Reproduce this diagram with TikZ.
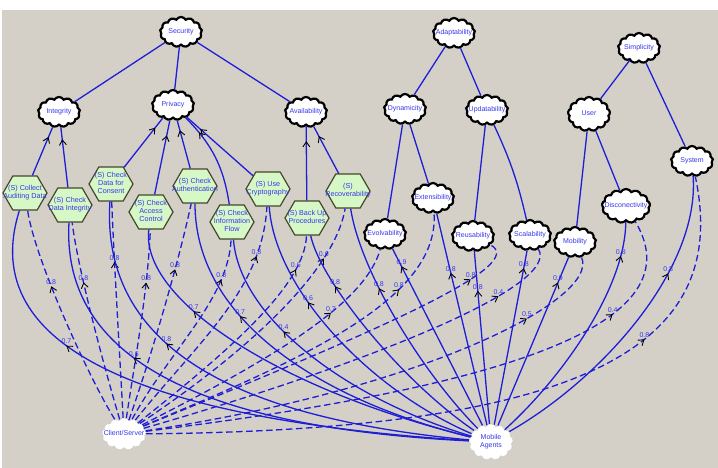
\documentclass[tikz,border=0pt]{standalone}
\usepackage{fontspec}
\setmainfont{Liberation Sans}
\usepackage{xcolor}
\usetikzlibrary{positioning}
\usetikzlibrary{shapes.symbols}
\usetikzlibrary{arrows.meta}
\usetikzlibrary{decorations.markings}
\definecolor{panelgray}{RGB}{212,208,200}
\definecolor{linkblue}{RGB}{30,30,215}
\definecolor{textblue}{RGB}{55,55,235}
\definecolor{opgreen}{RGB}{214,248,198}
\definecolor{opborder}{RGB}{70,70,40}
\newcommand{\ctext}[1]{\makebox[0pt]{\begin{tabular}{@{}c@{}}#1\end{tabular}}} % zero width text, so the shape keeps its own size
\newcommand{\contrib}[6]{ % Takes line style, from node, to node, path between them, arrow position, label text as arguments
    \draw[#1, postaction={decorate}, decoration={markings, mark=at position #5 with {\arrow{Straight Barb[color=black,length=5pt,width=7pt,line width=0.9pt]}\coordinate (lbl);}}] (#2) #4 (#3);
    \node[cval, above=1pt] at (lbl) {#6};
}

\begin{document}
\begin{tikzpicture}[x=1pt, y=-1pt,
    softgoal/.style={cloud, cloud puffs=13, cloud puff arc=120, cloud ignores aspect, draw=black, line width=2.2pt, fill=white, minimum width=42pt, minimum height=30pt, inner sep=0pt, text=textblue, font=\fontsize{7}{8}\selectfont},
    altgoal/.style={softgoal, draw=gray!45, line width=0.6pt, dash pattern=on 1pt off 1pt},
    operation/.style={signal, signal to=west and east, signal pointer angle=120, draw=opborder, line width=1.2pt, fill=opgreen, minimum width=44pt, minimum height=34pt, inner sep=0pt, text=textblue, font=\fontsize{7.2}{8}\selectfont},
    link/.style={linkblue, line width=1.3pt},
    solidlink/.style={link},
    dashlink/.style={link, dash pattern=on 6.5pt off 3.5pt},
    cval/.style={text=textblue, font=\fontsize{7}{7}\selectfont, inner sep=0.5pt},
    opedge/.style={link, postaction={decorate}, decoration={markings, mark=at position 0.8 with {\arrow{Straight Barb[color=black,length=5pt,width=7pt,line width=0.9pt]}}}}]

    % Frame
    \useasboundingbox (0,0) rectangle (718,468);
    \fill[white] (0,0) rectangle (718,468);
    \fill[panelgray] (2,10) rectangle (718,468);

    % Softgoals
    \node[softgoal] (sec) at (181,32) {\ctext{Security}};
    \node[softgoal] (integ) at (59,112) {\ctext{Integrity}};
    \node[softgoal] (priv) at (173,105) {\ctext{Privacy}};
    \node[softgoal] (avail) at (306,112) {\ctext{Availability}};
    \node[softgoal] (adapt) at (454,33) {\ctext{Adaptability}};
    \node[softgoal] (simpl) at (639,48) {\ctext{Simplicity}};
    \node[softgoal] (dyn) at (405,109) {\ctext{Dynamicity}};
    \node[softgoal] (upd) at (487,110) {\ctext{Updatability}};
    \node[softgoal, minimum height=34pt] (user) at (589,114) {\ctext{User}};
    \node[softgoal] (sys) at (692,161) {\ctext{System}};
    \node[softgoal] (ext) at (433,198) {\ctext{Extensibility}};
    \node[softgoal, minimum width=48pt, minimum height=34pt] (disc) at (626,206) {\ctext{Disconectivity}};
    \node[softgoal] (evol) at (385,234) {\ctext{Evolvability}};
    \node[softgoal] (reus) at (473,236) {\ctext{Reusability}};
    \node[softgoal] (scal) at (530,235) {\ctext{Scalability}};
    \node[softgoal] (mob) at (575,242) {\ctext{Mobility}};

    % Operationalizations
    \node[operation] (cad) at (25,193) {\ctext{(S) Collect\\Auditing Data}};
    \node[operation] (cdi) at (70,205) {\ctext{(S) Check\\Data Integrity}};
    \node[operation] (cdc) at (111,184) {\ctext{(S) Check\\Data for\\Consent}};
    \node[operation] (cac) at (151,212) {\ctext{(S) Check\\Access\\Control}};
    \node[operation] (cau) at (195,186) {\ctext{(S) Check\\Authentication}};
    \node[operation] (cif) at (232,222) {\ctext{(S) Check\\Information\\Flow}};
    \node[operation] (ucr) at (268,189) {\ctext{(S) Use\\Cryptography}};
    \node[operation] (bup) at (307,218) {\ctext{(S) Back Up\\Procedures}};
    \node[operation] (rec) at (348,191) {\ctext{(S)\\Recoverability}};

    % Architectures
    \node[altgoal, minimum width=44pt, minimum height=32pt] (cs) at (124,434) {\ctext{Client/Server}};
    \node[altgoal, minimum width=44pt, minimum height=36pt] (ma) at (491,442) {\ctext{Mobile\\Agents}};

    % Decompositions
    \draw[link] (sec) -- (integ);
    \draw[link] (sec) -- (priv);
    \draw[link] (sec) -- (avail);
    \draw[link] (adapt) -- (dyn);
    \draw[link] (adapt) -- (upd);
    \draw[link] (dyn) -- (evol);
    \draw[link] (dyn) -- (ext);
    \draw[link] (upd) -- (reus);
    \draw[link] (upd) to[bend left=6] (scal);
    \draw[link] (simpl) -- (user);
    \draw[link] (simpl) -- (sys);
    \draw[link] (user) -- (mob);
    \draw[link] (user) -- (disc);

    % Operationalizations to softgoals
    \draw[opedge] (cad) -- (integ);
    \draw[opedge] (cdi) -- (integ);
    \draw[opedge] (cdc) -- (priv);
    \draw[opedge] (cac) -- (priv);
    \draw[opedge] (cau) -- (priv);
    \draw[opedge] (cif) to[bend right=18] (priv);
    \draw[opedge] (ucr) -- (priv);
    \draw[opedge] (bup) -- (avail);
    \draw[opedge] (rec) -- (avail);

    % Client/Server contributions
    \contrib{dashlink}{cs}{cad}{.. controls (90,380) and (35,260) ..}{0.65}{0.8}
    \contrib{dashlink}{cs}{cdi}{.. controls (105,370) and (78,270) ..}{0.7}{0.8}
    \contrib{dashlink}{cs}{cdc}{.. controls (120,360) and (114,260) ..}{0.72}{0.8}
    \contrib{dashlink}{cs}{cac}{.. controls (135,360) and (148,290) ..}{0.72}{0.8}
    \contrib{dashlink}{cs}{cau}{.. controls (150,360) and (178,265) ..}{0.7}{0.8}
    \contrib{dashlink}{cs}{cif}{.. controls (170,350) and (228,300) ..}{0.8}{0.8}
    \contrib{dashlink}{cs}{ucr}{.. controls (200,340) and (262,290) ..}{0.8}{0.8}
    \contrib{dashlink}{cs}{bup}{.. controls (230,350) and (305,285) ..}{0.86}{0.6}
    \contrib{dashlink}{cs}{rec}{.. controls (250,350) and (335,270) ..}{0.82}{0.6}
    \contrib{dashlink}{cs}{evol}{.. controls (290,350) and (365,300) ..}{0.73}{0.7}
    \contrib{dashlink}{cs}{ext}{.. controls (300,360) and (440,300) ..}{0.77}{0.8}
    \contrib{dashlink}{cs}{reus}{.. controls (380,330) and (530,265) ..}{0.88}{0.8}
    \contrib{dashlink}{cs}{scal}{.. controls (380,360) and (560,285) ..}{0.85}{0.4}
    \contrib{dashlink}{cs}{mob}{.. controls (420,390) and (600,300) ..}{0.82}{0.5}
    \contrib{dashlink}{cs}{disc}{.. controls (480,390) and (700,330) ..}{0.82}{0.4}
    \contrib{dashlink}{cs}{sys}{.. controls (600,430) and (730,340) ..}{0.74}{0.8}

    % Mobile Agents contributions
    \contrib{solidlink}{ma}{cad}{.. controls (150,420) and (-25,350) ..}{0.73}{0.7}
    \contrib{solidlink}{ma}{cdi}{.. controls (250,430) and (60,380) ..}{0.69}{0.6}
    \contrib{solidlink}{ma}{cdc}{.. controls (260,420) and (100,360) ..}{0.67}{0.8}
    \contrib{solidlink}{ma}{cac}{.. controls (280,390) and (140,300) ..}{0.76}{0.7}
    \contrib{solidlink}{ma}{cau}{.. controls (320,400) and (195,320) ..}{0.68}{0.7}
    \contrib{solidlink}{ma}{cif}{.. controls (350,400) and (240,320) ..}{0.67}{0.4}
    \contrib{solidlink}{ma}{ucr}{.. controls (370,390) and (275,290) ..}{0.67}{0.6}
    \contrib{solidlink}{ma}{bup}{.. controls (400,380) and (320,280) ..}{0.78}{0.8}
    \contrib{solidlink}{ma}{rec}{.. controls (420,370) and (360,270) ..}{0.67}{0.8}
    \contrib{solidlink}{ma}{evol}{--}{0.9}{0.9}
    \contrib{solidlink}{ma}{ext}{--}{0.72}{0.8}
    \contrib{solidlink}{ma}{reus}{--}{0.77}{0.8}
    \contrib{solidlink}{ma}{scal}{--}{0.9}{0.8}
    \contrib{solidlink}{ma}{mob}{--}{0.85}{0.9}
    \contrib{solidlink}{ma}{disc}{.. controls (560,380) and (625,290) ..}{0.86}{0.8}
    \contrib{solidlink}{ma}{sys}{.. controls (600,380) and (700,270) ..}{0.69}{0.8}
\end{tikzpicture}
\end{document}
